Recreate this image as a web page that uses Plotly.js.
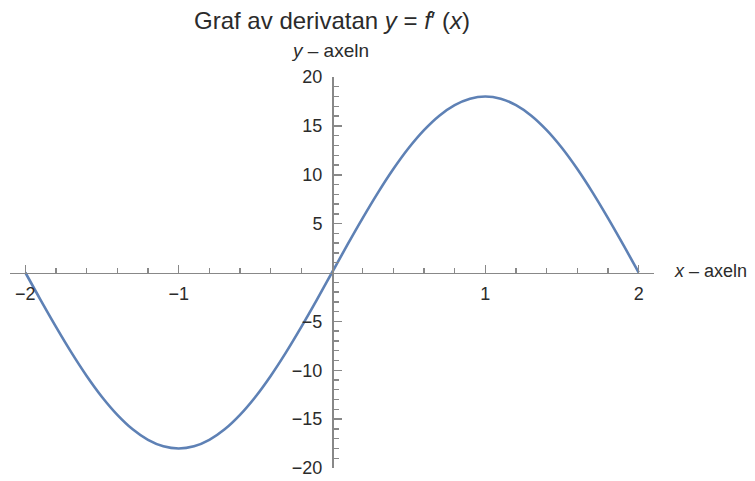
<!DOCTYPE html>
<html>
<head>
<meta charset="utf-8">
<script src="https://cdn.plot.ly/plotly-3.0.1.min.js"></script>
<style>
  html, body { margin: 0; padding: 0; background: #fff; }
  #plot { width: 755px; height: 481px; }
</style>
</head>
<body>
<div id="plot"></div>
<script>
// values, step 0.1
const xs = [-2, -1.9, -1.8, -1.7, -1.6, -1.5, -1.4, -1.3, -1.2, -1.1, -1,
            -0.9, -0.8, -0.7, -0.6, -0.5, -0.4, -0.3, -0.2, -0.1, 0,
            0.1, 0.2, 0.3, 0.4, 0.5, 0.6, 0.7, 0.8, 0.9, 1,
            1.1, 1.2, 1.3, 1.4, 1.5, 1.6, 1.7, 1.8, 1.9, 2];
const ys = [0, -2.82, -5.56, -8.17, -10.58, -12.73, -14.56, -16.04, -17.12, -17.78, -18.0,
            -17.78, -17.12, -16.04, -14.56, -12.73, -10.58, -8.17, -5.56, -2.82, 0,
            2.82, 5.56, 8.17, 10.58, 12.73, 14.56, 16.04, 17.12, 17.78, 18.0,
            17.78, 17.12, 16.04, 14.56, 12.73, 10.58, 8.17, 5.56, 2.82, 0];

const xTickVals = [-2, -1, 1, 2];
const xTickText = ['\u22122', '\u22121', '1', '2'];
const xMinorVals = [-1.8, -1.6, -1.4, -1.2, -0.8, -0.6, -0.4, -0.2,
                    0.2, 0.4, 0.6, 0.8, 1.2, 1.4, 1.6, 1.8];
const yTickVals = [-20, -15, -10, -5, 5, 10, 15, 20];
const yTickText = ['\u221220', '\u221215', '\u221210', '\u22125', '5', '10', '15', '20'];
const yMinorVals = [-19, -18, -17, -16, -14, -13, -12, -11, -9, -8, -7, -6, -4, -3, -2, -1,
                    1, 2, 3, 4, 6, 7, 8, 9, 11, 12, 13, 14, 16, 17, 18, 19];

const fontFam = '"Liberation Sans", Arial, sans-serif';
const axisColor = '#888888';
const textColor = '#2b2b2b';

const curve = {
    x: xs,
    y: ys,
    type: 'scatter',
    mode: 'lines',
    line: { color: '#5E81B5', width: 2.6, shape: 'spline', smoothing: 1 },
    hoverinfo: 'skip'
};

const axisBase = {
    anchor: 'free',
    position: 0.5,
    showline: true,
    linecolor: axisColor,
    linewidth: 1.6,
    showgrid: false,
    zeroline: false,
    ticks: 'inside',
    ticklen: 8,
    tickwidth: 1.5,
    tickcolor: axisColor,
    tickmode: 'array',
    tickfont: { family: fontFam, size: 18, color: textColor },
    fixedrange: true
};

const layout = {
    width: 755,
    height: 481,
    margin: { l: 10, r: 101, t: 77, b: 13 },
    paper_bgcolor: '#fff',
    plot_bgcolor: '#fff',
    showlegend: false,
    title: {
        text: 'Graf av derivatan <i>y</i> = <i>f</i>\u2032 (<i>x</i>)',
        font: { family: fontFam, size: 24, color: textColor },
        xref: 'paper', x: 0.5, xanchor: 'center',
        yref: 'container', y: 0.957, yanchor: 'middle'
    },
    xaxis: Object.assign({}, axisBase, {
        range: [-2.1, 2.1],
        tickvals: xTickVals,
        ticktext: xTickText,
        ticklabelstandoff: 4,
        minor: { tickmode: 'array', tickvals: xMinorVals, ticks: 'inside', ticklen: 5, tickwidth: 1.4, tickcolor: axisColor }
    }),
    yaxis: Object.assign({}, axisBase, {
        range: [-20, 20],
        tickvals: yTickVals,
        ticktext: yTickText,
        ticklabelstandoff: 6,
        minor: { tickmode: 'array', tickvals: yMinorVals, ticks: 'inside', ticklen: 5, tickwidth: 1.4, tickcolor: axisColor }
    }),
    annotations: [
        {
            text: '<i>y</i> \u2013 axeln',
            xref: 'paper', yref: 'paper', x: 0.497, y: 1.067,
            xanchor: 'center', yanchor: 'middle', showarrow: false,
            font: { family: fontFam, size: 19, color: textColor }
        },
        {
            text: '<i>x</i> \u2013 axeln',
            xref: 'paper', yref: 'paper', x: 1.0285, y: 0.505,
            xanchor: 'left', yanchor: 'middle', showarrow: false,
            font: { family: fontFam, size: 18, color: textColor }
        }
    ]
};

Plotly.newPlot('plot', [curve], layout, { displayModeBar: false, staticPlot: true });
</script>
</body>
</html>
